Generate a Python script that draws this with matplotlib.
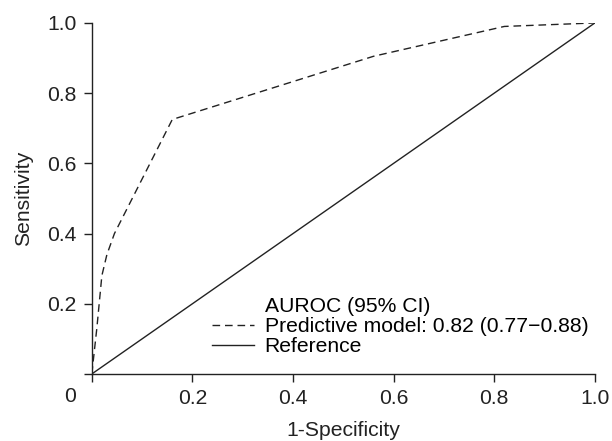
import matplotlib
matplotlib.use("Agg")
import matplotlib.pyplot as plt
from matplotlib.lines import Line2D

plt.rcParams['font.family'] = ['Liberation Sans', 'DejaVu Sans']

# ROC curve of the predictive model
fpr = [0, 0.01, 0.02, 0.03, 0.045, 0.16, 0.56, 0.82, 1.0]
tpr = [0, 0.13, 0.28, 0.34, 0.40, 0.725, 0.905, 0.99, 1.0]
ref_x = [0, 1]
ref_y = [0, 1]
ticks = [0, 0.2, 0.4, 0.6, 0.8, 1.0]
tick_labels = ['', '0.2', '0.4', '0.6', '0.8', '1.0']

FS = 15.2
fig = plt.figure(figsize=(6.12, 4.41), dpi=100)
ax = fig.add_axes([0.150, 0.152, 0.822, 0.796])

ax.plot(fpr, tpr, color='#222222', lw=1.0, dashes=(5.5, 3.5),
        label='Predictive model: 0.82 (0.77\u22120.88)')
ax.plot(ref_x, ref_y, color='#222222', lw=1.0, label='Reference')

ax.set_xlim(0, 1)
ax.set_ylim(0, 1)
ax.set_xticks(ticks)
ax.set_xticklabels(tick_labels)
ax.set_yticks(ticks)
ax.set_yticklabels(tick_labels)
ax.tick_params(direction='out', length=6, width=1.0, labelsize=FS,
               colors='#222222', pad=5)
for s in ['top', 'right']:
    ax.spines[s].set_visible(False)
for s in ['left', 'bottom']:
    ax.spines[s].set_linewidth(1.0)
    ax.spines[s].set_color('#222222')
ax.annotate('0', xy=(0, 0), xytext=(-22, -23), textcoords='offset pixels',
            ha='center', va='center', fontsize=FS, color='#222222')

ax.set_xlabel('1-Specificity', fontsize=FS, color='#222222', labelpad=9)
ax.set_ylabel('Sensitivity', fontsize=FS, color='#222222', labelpad=10)

handles, labels = ax.get_legend_handles_labels()
title_handle = Line2D([], [], color='none')
ax.legend([title_handle] + handles, ['AUROC (95% CI)'] + labels,
          loc='lower right', bbox_to_anchor=(0.987, 0.05), frameon=False,
          fontsize=FS, handlelength=2.0, handletextpad=0.5,
          labelspacing=0.05, borderaxespad=0.0, borderpad=0.0)

fig.savefig('out.png', dpi=100)
